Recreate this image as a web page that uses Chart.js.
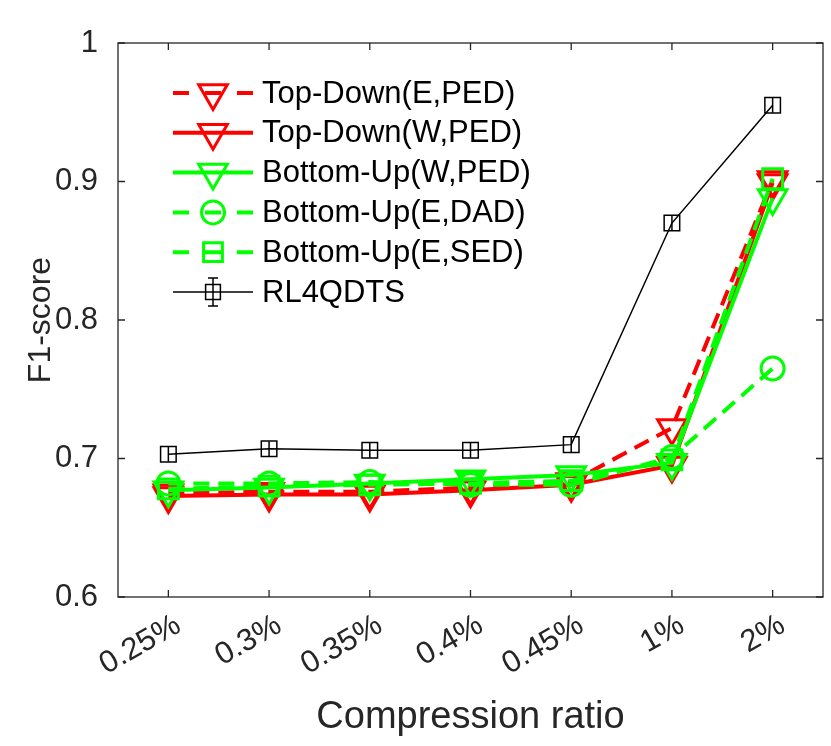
<!DOCTYPE html>
<html>
<head>
<meta charset="utf-8">
<script src="https://cdn.jsdelivr.net/npm/chart.js@4.4.1/dist/chart.umd.min.js"></script>
<style>
  html, body { margin: 0; padding: 0; background: #fff; }
</style>
</head>
<body>
<canvas id="f1Chart" width="831" height="746"></canvas>
<script>
const categorias = ['0.25%', '0.3%', '0.35%', '0.4%', '0.45%', '1%', '2%'];
const ticksY = [0.6, 0.7, 0.8, 0.9, 1];

const topDownEPED  = [0.675, 0.676, 0.676, 0.679, 0.683, 0.722, 0.901];
const topDownWPED  = [0.673, 0.674, 0.674, 0.677, 0.681, 0.695, 0.899];
const bottomUpWPED = [0.677, 0.679, 0.682, 0.685, 0.688, 0.697, 0.888];
const bottomUpEDAD = [0.682, 0.682, 0.683, 0.681, 0.681, 0.701, 0.765];
const bottomUpESED = [0.678, 0.680, 0.681, 0.682, 0.684, 0.699, 0.902];
const rl4qdts      = [0.703, 0.707, 0.706, 0.706, 0.710, 0.870, 0.955];

const FONTE = '"Liberation Sans", Arial, sans-serif';
const CINZA = '#262626';
const VERMELHO = '#ff0000';
const VERDE = '#00ff00';

function serie(label, data, cor, tracejado, estilo, raio, rot, largura, borda) {
  return {
    label, data,
    borderColor: cor,
    borderWidth: largura,
    borderDash: tracejado,
    pointStyle: estilo,
    pointRotation: rot,
    pointRadius: raio,
    pointHoverRadius: raio,
    pointBorderColor: cor,
    pointBackgroundColor: 'rgba(0,0,0,0)',
    pointBorderWidth: borda,
    fill: false,
    tension: 0
  };
}

const datasets = [
  serie('Top-Down(E,PED)',  topDownEPED,  VERMELHO, [16, 9], 'triangle', 16.5, 180, 4, 3),
  serie('Top-Down(W,PED)',  topDownWPED,  VERMELHO, [],      'triangle', 16.5, 180, 4, 3),
  serie('Bottom-Up(W,PED)', bottomUpWPED, VERDE,    [],      'triangle', 16.5, 180, 4, 3),
  serie('Bottom-Up(E,DAD)', bottomUpEDAD, VERDE,    [16, 9], 'circle',   11.5, 0,   4, 3),
  serie('Bottom-Up(E,SED)', bottomUpESED, VERDE,    [16, 9], 'rect',     14,   0,   4, 3),
  serie('RL4QDTS',          rl4qdts,      '#000000', [],     'rect',     11,   0,   1.5, 1.5)
];
// ordem de desenho igual ao MATLAB: o último fica por cima
datasets.forEach((d, i) => { d.order = datasets.length - i; });

// Caixa dos eixos, ticks para dentro, barras de erro e legenda
const molduraPlugin = {
  id: 'moldura',
  beforeDatasetsDraw(chart) {
    const { ctx, chartArea: a, scales: { x, y } } = chart;
    ctx.save();
    ctx.strokeStyle = CINZA;
    ctx.lineWidth = 1.3;
    ctx.strokeRect(a.left, a.top, a.right - a.left, a.bottom - a.top);
    ctx.beginPath();
    ticksY.forEach(v => {
      const py = y.getPixelForValue(v);
      ctx.moveTo(a.left, py);  ctx.lineTo(a.left + 7, py);
      ctx.moveTo(a.right, py); ctx.lineTo(a.right - 7, py);
    });
    categorias.forEach((c, i) => {
      const px = x.getPixelForValue(i);
      ctx.moveTo(px, a.bottom); ctx.lineTo(px, a.bottom - 7);
      ctx.moveTo(px, a.top);    ctx.lineTo(px, a.top + 7);
    });
    ctx.stroke();
    ctx.restore();
  },
  afterDatasetsDraw(chart) {
    const { ctx } = chart;
    ctx.save();
    // barras de erro (pequenas) do RL4QDTS
    const meta = chart.getDatasetMeta(datasets.length - 1);
    ctx.strokeStyle = '#000';
    ctx.lineWidth = 1.5;
    ctx.beginPath();
    meta.data.forEach(p => {
      ctx.moveTo(p.x, p.y - 7.5);
      ctx.lineTo(p.x, p.y + 7.5);
    });
    ctx.stroke();

    // legenda
    const x0 = 173, x1 = 253, xm = 213;
    datasets.forEach((d, i) => {
      const ly = 93 + i * 39.8;
      ctx.strokeStyle = d.borderColor;
      ctx.lineWidth = d.borderWidth;
      ctx.setLineDash([]);
      ctx.beginPath();
      if (d.borderDash.length) {
        [[x0, x0 + 16], [xm - 8, xm + 8], [x1 - 16, x1]].forEach(([s, e]) => {
          ctx.moveTo(s, ly); ctx.lineTo(e, ly);
        });
      } else {
        ctx.moveTo(x0, ly); ctx.lineTo(x1, ly);
      }
      ctx.stroke();
      ctx.fillStyle = 'rgba(0,0,0,0)';
      ctx.lineWidth = d.pointBorderWidth;
      Chart.helpers.drawPoint(ctx, {
        pointStyle: d.pointStyle,
        rotation: d.pointRotation,
        radius: d.pointStyle === 'rect' ? d.pointRadius * 0.95 : d.pointRadius,
        borderWidth: d.pointBorderWidth
      }, xm, ly);
      if (d.label === 'RL4QDTS') {
        ctx.beginPath();
        ctx.moveTo(xm, ly - 14); ctx.lineTo(xm, ly + 14);
        ctx.moveTo(xm - 5, ly - 14); ctx.lineTo(xm + 5, ly - 14);
        ctx.moveTo(xm - 5, ly + 14); ctx.lineTo(xm + 5, ly + 14);
        ctx.stroke();
      }
      ctx.fillStyle = '#000';
      ctx.font = '31px ' + FONTE;
      ctx.textAlign = 'left';
      ctx.textBaseline = 'middle';
      ctx.fillText(d.label, 262, ly + 1);
    });
    ctx.restore();
  }
};

const ctx = document.getElementById('f1Chart').getContext('2d');
new Chart(ctx, {
  type: 'line',
  data: { labels: categorias, datasets },
  options: {
    responsive: false,
    animation: false,
    devicePixelRatio: 1,
    layout: { autoPadding: false, padding: { top: 43, right: 8, left: 0, bottom: 0 } },
    plugins: {
      legend: { display: false },
      tooltip: { enabled: false }
    },
    scales: {
      x: {
        type: 'category',
        offset: true,
        grid: { display: false },
        border: { display: false },
        ticks: {
          color: CINZA,
          font: { family: FONTE, size: 31 },
          minRotation: 30,
          maxRotation: 30,
          padding: 2,
          labelOffset: 10
        },
        title: {
          display: true,
          text: 'Compression ratio',
          color: CINZA,
          font: { family: FONTE, size: 38 },
          padding: { top: 0, bottom: 6 }
        },
        afterFit: s => {
          s.height = 149;
          s.paddingLeft = 0;
          s.paddingRight = 0;
        }
      },
      y: {
        min: 0.6,
        max: 1,
        grid: { display: false },
        border: { display: false },
        ticks: {
          stepSize: 0.1,
          color: CINZA,
          font: { family: FONTE, size: 31 },
          padding: 12,
          callback: v => String(Math.round(v * 10) / 10)
        },
        title: {
          display: true,
          text: 'F1-score',
          color: CINZA,
          font: { family: FONTE, size: 32 },
          padding: { top: 22, bottom: 0 }
        },
        afterFit: s => {
          s.width = 118;
          s.paddingTop = 0;
          s.paddingBottom = 0;
        }
      }
    }
  },
  plugins: [molduraPlugin]
});
</script>
</body>
</html>
